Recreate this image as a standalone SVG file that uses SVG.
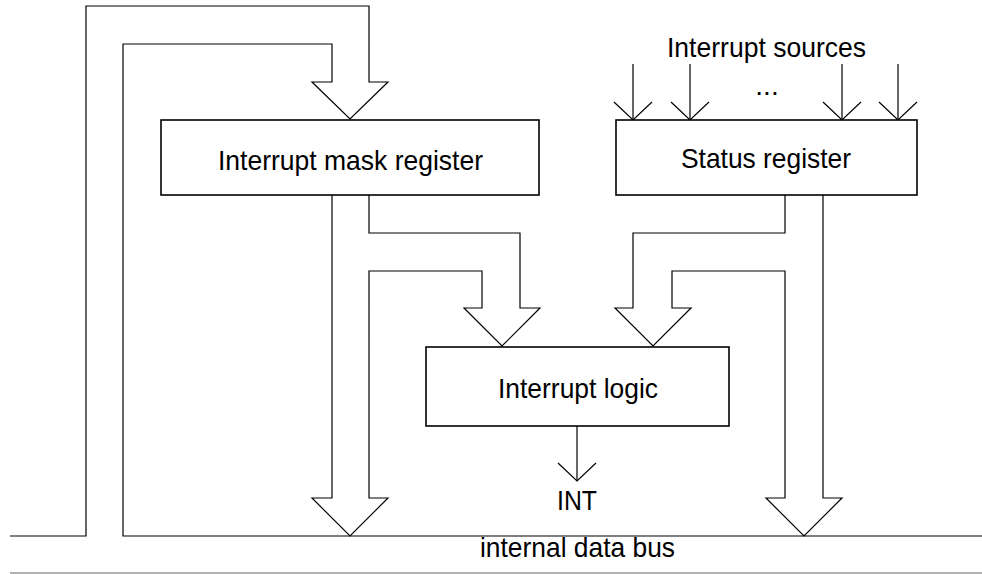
<svg xmlns="http://www.w3.org/2000/svg" width="982" height="574" viewBox="0 0 982 574">
  <style>
    .box { fill: #fff; stroke: #000; stroke-width: 1.6; }
    .wire { fill: none; stroke: #000; stroke-width: 1.2; stroke-linejoin: miter; }
    .rule { fill: none; stroke: #999; stroke-width: 1.4; }
    .label { font-family: "Liberation Sans", Arial, sans-serif; font-size: 28px; fill: #000; text-anchor: middle; }
  </style>
  <defs>
    <!-- open V head for single-line signals; the tip sits at (0,0) -->
    <path id="vhead" d="M-19,-18 L0,0 L19,-18" class="wire"/>
  </defs>

  <rect width="982" height="574" fill="#fff"/>

  <g id="connectors">
    <!-- two feedback loops from the data bus into the mask register (wide arrow) -->
    <path class="wire" d="M10,536 H86 V6 H369 V82 H388 L350,119 L312,82 H332 V44 H123 V536 H982"/>
    <!-- mask register: to the bus and to the interrupt logic -->
    <path class="wire" d="M332,195 V498 H312 L350,536 L388,498 H369 V271 H482 V308 H464 L502,346 L540,308 H520 V233 H369 V195"/>
    <!-- status register: to the bus and to the interrupt logic -->
    <path class="wire" d="M823,195 V498 H842 L804,536 L766,498 H785 V271 H672 V308 H691 L653,346 L615,308 H633 V233 H785 V195"/>
    <!-- interrupt source lines -->
    <path class="wire" d="M633,64 V120 M690,64 V120 M842,64 V120 M898,64 V120"/>
    <use href="#vhead" x="633" y="120"/>
    <use href="#vhead" x="690" y="120"/>
    <use href="#vhead" x="842" y="120"/>
    <use href="#vhead" x="898" y="120"/>
    <!-- INT output -->
    <path class="wire" d="M577,426 V481"/>
    <use href="#vhead" x="577" y="481"/>
    <!-- lower rule -->
    <path class="rule" d="M10,573 H982"/>
  </g>

  <g id="mask-register">
    <rect class="box" x="161" y="120" width="378" height="75"/>
    <text class="label" x="350.5" y="170" textLength="265" lengthAdjust="spacingAndGlyphs">Interrupt mask register</text>
  </g>

  <g id="status-register">
    <rect class="box" x="616" y="120" width="301" height="75"/>
    <text class="label" x="766" y="168" textLength="170" lengthAdjust="spacingAndGlyphs">Status register</text>
  </g>

  <g id="interrupt-sources">
    <text class="label" x="766.5" y="56.5" textLength="199" lengthAdjust="spacingAndGlyphs">Interrupt sources</text>
    <text class="label" x="767" y="95">...</text>
  </g>

  <g id="interrupt-logic">
    <rect class="box" x="426" y="347" width="303" height="79"/>
    <text class="label" x="578" y="398" textLength="160" lengthAdjust="spacingAndGlyphs">Interrupt logic</text>
  </g>

  <g id="int-signal">
    <text class="label" x="577" y="510" textLength="40" lengthAdjust="spacingAndGlyphs">INT</text>
  </g>

  <g id="data-bus">
    <text class="label" x="577.5" y="557" textLength="195" lengthAdjust="spacingAndGlyphs">internal data bus</text>
  </g>
</svg>
